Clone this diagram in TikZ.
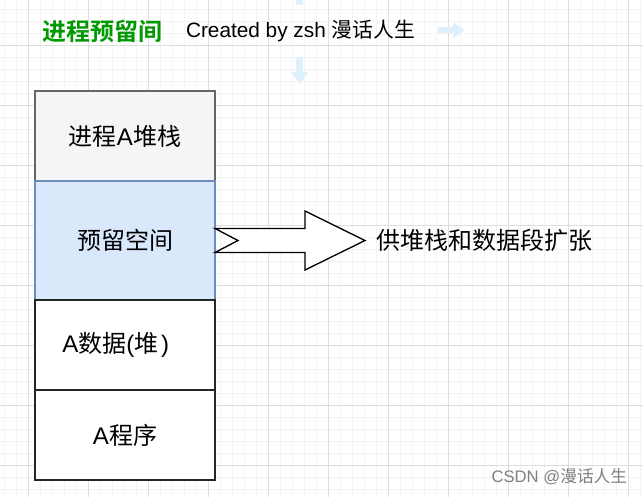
\documentclass[tikz,border=0pt]{standalone}
\usepackage{fontspec}
\setmainfont{Liberation Sans}
\newfontfamily\cjk{Noto Sans CJK SC}
\newfontfamily\cjkb{Noto Sans CJK SC Bold}
\usetikzlibrary{positioning}

\definecolor{gridminor}{RGB}{243,243,243}
\definecolor{gridmajor}{RGB}{222,222,222}
\definecolor{faintblue}{RGB}{221,240,251}
\definecolor{titlegreen}{RGB}{0,153,0}
\definecolor{stackfill}{RGB}{245,245,245}
\definecolor{stackline}{RGB}{102,102,102}
\definecolor{reservefill}{RGB}{218,232,252}
\definecolor{reserveline}{RGB}{108,142,191}
\definecolor{markgray}{RGB}{128,128,128}

\begin{document}
\begin{tikzpicture}[x=0.75pt,y=-0.75pt,
    cell/.style={draw, minimum width=135pt, inner sep=0pt, outer sep=0pt, font=\fontsize{18}{20}\selectfont},
    plaintext/.style={inner sep=0pt, outer sep=0pt}]
    \useasboundingbox[fill=white] (0,0) rectangle (643,497);
    % grid
    \foreach \x in {4,16,...,640} \draw[gridminor, line width=0.75pt] (\x,0) -- (\x,497);
    \foreach \y in {9,21,...,497} \draw[gridminor, line width=0.75pt] (0,\y) -- (643,\y);
    \foreach \x in {28,88,...,628} \draw[gridmajor, line width=0.75pt] (\x,0) -- (\x,497);
    \foreach \y in {45,105,...,465} \draw[gridmajor, line width=0.75pt] (0,\y) -- (643,\y);
    % faint arrows
    \fill[faintblue] (296,0) rectangle (303,5);
    \fill[faintblue] (296,57) rectangle (303,72);
    \fill[faintblue] (291,72) -- (308,72) -- (299.5,84) -- cycle;
    \fill[faintblue] (438,27) rectangle (453,33);
    \fill[faintblue] (453,22) -- (465,30) -- (453,38) -- cycle;

    \node[plaintext, anchor=west, text=titlegreen, font=\fontsize{18}{20}\selectfont\cjkb] (title) at (42,31) {进程预留间};
    \node[plaintext, right=18pt of title, font=\fontsize{15.6}{18}\selectfont] (credit) {Created by zsh {\cjk 漫话人生}};

    \node[cell, fill=stackfill, draw=stackline, line width=1pt, minimum height=67.5pt, anchor=north west] (stackA) at (35,91) {{\cjk 进程}A{\cjk 堆栈}};
    \node[cell, fill=reservefill, draw=reserveline, line width=1pt, minimum height=89.25pt, below=0pt of stackA] (reserve) {\cjk 预留空间};
    \node[cell, fill=white, draw=black!85, line width=1.5pt, minimum height=67.5pt, below=0pt of reserve] (dataA) {A{\cjk 数据}({\cjk 堆}\kern2pt)\kern14pt};
    \node[cell, fill=white, draw=black!85, line width=1.5pt, minimum height=67.5pt, below=0pt of dataA] (progA) {A{\cjk 程序}};

    \node[plaintext, right=121pt of reserve.east, anchor=west, font=\fontsize{18}{20}\selectfont\cjk] (expand) {供堆栈和数据段扩张};
    \draw[line width=1pt, fill=white, line join=miter] (reserve.east) ++(0,-12) -- ++(90,0) -- ++(0,-17.5) -- ++(60,29.5) -- ++(-60,29.5) -- ++(0,-17.5) -- ++(-90,0) -- ++(23,-12) -- cycle;

    \node[plaintext, anchor=east, text=markgray, font=\fontsize{12.5}{15}\selectfont] (mark) at (627,477) {CSDN @{\cjk 漫话人生}};
\end{tikzpicture}
\end{document}
